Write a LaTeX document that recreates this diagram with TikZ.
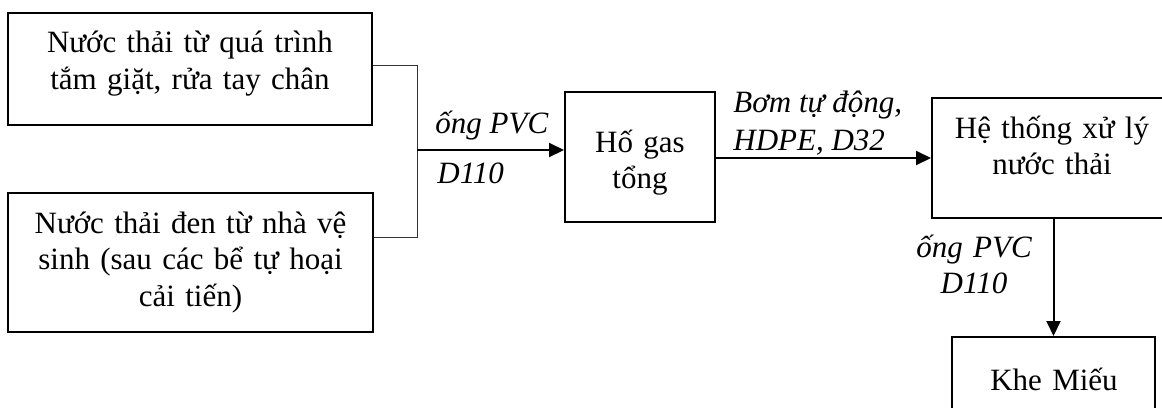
\documentclass[tikz,border=0pt]{standalone}
\usepackage{fontspec}
\setmainfont{Liberation Serif}
\usetikzlibrary{arrows.meta}
\begin{document}
\begin{tikzpicture}[x=0.5pt,y=-0.5pt,
  box/.style={draw=black,line width=1pt,rectangle,inner sep=0pt},
  txt/.style={anchor=base,align=center,inner sep=0pt,font=\fontsize{15.5pt}{18.3pt}\selectfont},
  lbl/.style={anchor=base west,inner sep=0pt,font=\fontsize{15.5pt}{18.3pt}\selectfont\itshape},
  thinline/.style={draw=black!80,line width=0.5pt},
  flow/.style={draw=black,line width=1pt,-{Triangle[length=7.5pt,width=7pt]}}]
\useasboundingbox (0,0) rectangle (1162,407);
\clip (0,0) rectangle (1162,407);
% boxes
\node[box,minimum width=182pt,minimum height=56pt] (b1) at (190,69) {};
\node[box,minimum width=182.5pt,minimum height=69.5pt] (b2) at (190.5,262.5) {};
\node[box,minimum width=75pt,minimum height=65pt] (hg) at (640,157) {};
\node[box,minimum width=121.5pt,minimum height=60pt] (ht) at (1053.5,158) {};
\node[box,minimum width=101.5pt,minimum height=54pt] (km) at (1053.5,391) {};
% box texts
\node[txt,text width=180pt] (b1t) at (190,53) {Nước thải từ quá trình\\tắm giặt, rửa tay chân};
\node[txt,text width=180pt] (b2t) at (190.5,233) {Nước thải đen từ nhà vệ\\sinh (sau các bể tự hoại\\cải tiến)};
\node[txt,text width=74pt] (hgt) at (640,152) {Hố gas\\tổng};
\node[txt,text width=120pt] (htt) at (1052,138) {Hệ thống xử lý\\nước thải};
\node[txt,text width=100pt] (kmt) at (1054,390) {Khe Miếu};
% connectors
\coordinate (j1) at (417,65);
\coordinate (j2) at (417,237);
\coordinate (jm) at (417,150);
\coordinate (p2) at (820,158);
\draw[thinline] (b1.east |- j1) -- (j1) -- (j2) -- (b2.east |- j2);
\draw[flow] (jm) -- (hg.west |- jm);
\draw[flow] (hg.east |- p2) -- (ht.west |- p2);
\draw[flow] (ht.south) -- (km.north);
% labels
\node[lbl] (l1a) at (435,133) {ống PVC};
\node[lbl] (l1b) at (437,183) {D110};
\node[lbl] (l2a) at (733,112) {Bơm tự động,};
\node[lbl] (l2b) at (733,150) {HDPE, D32};
\node[txt,font=\fontsize{15.5pt}{18.3pt}\selectfont\itshape,text width=70pt] (l3) at (974,257) {ống PVC\\D110};
\end{tikzpicture}
\end{document}
